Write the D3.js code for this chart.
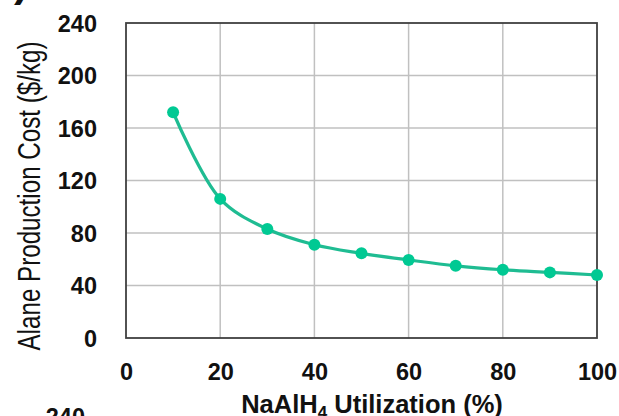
<!DOCTYPE html>
<html>
<head>
<meta charset="utf-8">
<script src="https://cdn.jsdelivr.net/npm/d3@7"></script>
<style>
  html, body { margin: 0; padding: 0; background: #fff; }
  text { font-family: Arial, 'Liberation Sans', Helvetica, sans-serif; fill: #111; }
</style>
</head>
<body>
<div id="chart"></div>
<script>
// data
const utilization = [10, 20, 30, 40, 50, 60, 70, 80, 90, 100];
const cost = [172, 106, 83, 71, 64.5, 59.5, 55, 52, 50, 48];
const xTicks = [0, 20, 40, 60, 80, 100];
const yTicks = [0, 40, 80, 120, 160, 200, 240];

const width = 619;
const height = 416;
const margin = {top: 23, right: 22, bottom: 78, left: 126};

const lineColor = '#1fbc92';
const dotColor = '#00c993';
const gridColor = '#c0c0c0';
const frameColor = '#404040';
const tickFont = 'bold 23.5px Arial, "Liberation Sans", sans-serif';

const xScale = d3.scaleLinear()
    .domain([0, 100])
    .range([margin.left, width - margin.right]);

const yScale = d3.scaleLinear()
    .domain([0, 240])
    .range([height - margin.bottom, margin.top]);

const svg = d3.select('#chart')
    .append('svg')
    .attr('width', width)
    .attr('height', height);

// grid
svg.append('g')
    .selectAll('line')
    .data(yTicks.slice(1, -1))
    .join('line')
    .attr('x1', xScale(0))
    .attr('x2', xScale(100))
    .attr('y1', d => yScale(d))
    .attr('y2', d => yScale(d))
    .attr('stroke', gridColor)
    .attr('stroke-width', 1.5);

svg.append('g')
    .selectAll('line')
    .data(xTicks.slice(1, -1))
    .join('line')
    .attr('x1', d => xScale(d))
    .attr('x2', d => xScale(d))
    .attr('y1', yScale(0))
    .attr('y2', yScale(240))
    .attr('stroke', gridColor)
    .attr('stroke-width', 1.5);

// frame
svg.append('rect')
    .attr('x', xScale(0))
    .attr('y', yScale(240))
    .attr('width', xScale(100) - xScale(0))
    .attr('height', yScale(0) - yScale(240))
    .attr('fill', 'none')
    .attr('stroke', frameColor)
    .attr('stroke-width', 1.8);

// axes (labels only)
const xAxis = svg.append('g')
    .attr('transform', `translate(0, ${yScale(0)})`)
    .call(d3.axisBottom(xScale).tickValues(xTicks).tickSize(0).tickPadding(0));
xAxis.select('.domain').remove();
xAxis.selectAll('.tick text')
    .attr('y', 42)
    .attr('dy', 0)
    .style('font', tickFont)
    .attr('fill', '#111');

const yAxis = svg.append('g')
    .attr('transform', `translate(${xScale(0)}, 0)`)
    .call(d3.axisLeft(yScale).tickValues(yTicks).tickSize(0).tickPadding(0));
yAxis.select('.domain').remove();
yAxis.selectAll('.tick text')
    .attr('x', -29)
    .attr('dy', '0.35em')
    .style('font', tickFont)
    .attr('fill', '#111');

// line
const pts = utilization.map((u, i) => [u, cost[i]]);
svg.append('path')
    .datum(pts)
    .attr('fill', 'none')
    .attr('stroke', lineColor)
    .attr('stroke-width', 3.2)
    .attr('d', d3.line()
        .x(d => xScale(d[0]))
        .y(d => yScale(d[1]))
        .curve(d3.curveCatmullRom.alpha(0.5)));

svg.append('g')
    .selectAll('circle')
    .data(pts)
    .join('circle')
    .attr('cx', d => xScale(d[0]))
    .attr('cy', d => yScale(d[1]))
    .attr('r', 6)
    .attr('fill', dotColor);

// axis titles
const xTitle = svg.append('text')
    .attr('x', 372)
    .attr('y', 413)
    .attr('text-anchor', 'middle')
    .style('font-weight', 'bold')
    .style('font-size', '25.5px');
xTitle.append('tspan').text('NaAlH');
xTitle.append('tspan').text('4').style('font-size', '17px').attr('dy', 5);
xTitle.append('tspan').text(' Utilization (%)').attr('dy', -5);

svg.append('text')
    .attr('transform', 'translate(40, 196) rotate(-90)')
    .attr('text-anchor', 'middle')
    .attr('textLength', 309)
    .attr('lengthAdjust', 'spacingAndGlyphs')
    .style('font-size', '31px')
    .text('Alane Production Cost ($/kg)');

// cut-off pieces of the neighbouring figures
svg.append('text')
    .attr('x', 85)
    .attr('y', 425)
    .attr('text-anchor', 'end')
    .style('font', tickFont)
    .text('240');

svg.append('text')
    .attr('x', 14)
    .attr('y', -4)
    .style('font-weight', 'bold')
    .style('font-size', '44px')
    .text(')');
</script>
</body>
</html>
